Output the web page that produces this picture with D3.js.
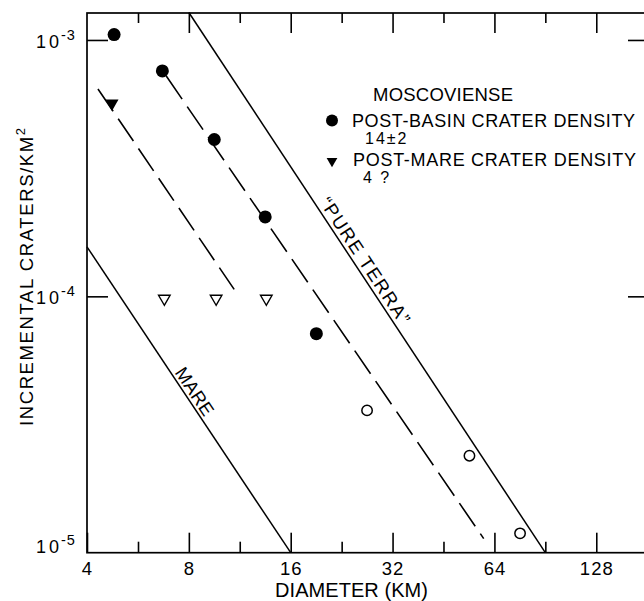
<!DOCTYPE html>
<html>
<head>
<meta charset="utf-8">
<script src="https://cdn.jsdelivr.net/npm/d3@7"></script>
<style>
  body { margin: 0; background: #fff; }
  svg text { font-family: "Liberation Sans", Arial, sans-serif; fill: #000; }
</style>
</head>
<body>
<div id="chart"></div>
<script>
// values (diameter in km, incremental craters per km^2)
const postBasinD = [4.81, 6.68, 9.51, 13.45, 19.05];
const postBasinN = [1.05e-3, 7.57e-4, 4.09e-4, 2.04e-4, 7.15e-5];
const openCircleD = [26.9, 54.0, 76.2];
const openCircleN = [3.59e-5, 2.39e-5, 1.19e-5];
const postMareD = [4.74];
const postMareN = [5.66e-4];
const openTriangleD = [6.77, 9.63, 13.55];
const openTriangleN = [9.8e-5, 9.8e-5, 9.8e-5];

// reference lines, end points as [diameter, density]
const pureTerraLine = [[8.0, 1.28e-3], [90.5, 1.0e-5]];
const mareLine = [[4.0, 1.56e-4], [16.0, 1.0e-5]];
const postBasinFit = [[6.86, 7.23e-4], [59.5, 1.135e-5]];
const postMareFit = [[4.31, 6.44e-4], [10.89, 1.064e-4]];

const xMajorTicks = [4, 8, 16, 32, 64, 128];
const xMinorTicks = [5.66, 11.31, 22.63, 45.25, 90.5, 181];
const yTicks = [1e-3, 1e-4, 1e-5];
const yTickExp = ["-3", "-4", "-5"];

const legendTitle = "MOSCOVIENSE";
const legendLabels = ["POST-BASIN CRATER DENSITY", "POST-MARE CRATER DENSITY"];
const legendValues = ["14\u00B12", "4 ?"];

const margin = {top: 13, right: -4, bottom: 48.3, left: 87};
const size = {width: 644, height: 601};
const width = size.width - margin.left - margin.right;
const height = size.height - margin.top - margin.bottom;

const svg = d3.select("#chart").append("svg")
    .attr("width", size.width)
    .attr("height", size.height);
svg.append("rect").attr("width", size.width).attr("height", size.height).attr("fill", "#fff");

const g = svg.append("g")
    .attr("transform", "translate(" + margin.left + "," + margin.top + ")");

const xScale = d3.scaleLog().domain([4, 182]).range([0, width]);
const yScale = d3.scaleLog().domain([1e-5, 1.274e-3]).range([height, 0]);

// frame
g.append("rect")
    .attr("width", width).attr("height", height)
    .attr("fill", "none").attr("stroke", "#000").attr("stroke-width", 1.7);

// bottom axis: inward ticks, labels below
const xAxisG = g.append("g").attr("transform", "translate(0," + height + ")")
    .call(d3.axisBottom(xScale).tickValues(xMajorTicks).tickFormat(d3.format("d"))
        .tickSizeInner(-20).tickSizeOuter(0).tickPadding(9.5));
g.append("g").attr("transform", "translate(0," + height + ")")
    .call(d3.axisBottom(xScale).tickValues(xMinorTicks).tickFormat("")
        .tickSizeInner(-11).tickSizeOuter(0));
// top axis: ticks hanging down
g.append("g")
    .call(d3.axisTop(xScale).tickValues(xMajorTicks.slice(1)).tickFormat("")
        .tickSizeInner(-20).tickSizeOuter(0));
g.append("g")
    .call(d3.axisTop(xScale).tickValues(xMinorTicks).tickFormat("")
        .tickSizeInner(-10).tickSizeOuter(0));
// left / right axes
g.append("g")
    .call(d3.axisLeft(yScale).tickValues(yTicks.slice(0, 2)).tickFormat("")
        .tickSizeInner(-21).tickSizeOuter(0));
g.append("g").attr("transform", "translate(" + width + ",0)")
    .call(d3.axisRight(yScale).tickValues(yTicks.slice(0, 2)).tickFormat("")
        .tickSizeInner(-20).tickSizeOuter(0));

g.selectAll(".domain").remove();
g.selectAll(".tick line").attr("stroke", "#000").attr("stroke-width", 1.6);
xAxisG.selectAll(".tick text")
    .attr("font-size", 18.5).attr("letter-spacing", 1)
    .attr("font-family", "Liberation Sans, Arial, sans-serif");

// y tick labels with superscript exponent
const yLab = g.append("g").selectAll("text")
    .data(yTicks)
    .join("text")
    .attr("x", -51)
    .attr("y", (d, i) => yScale(d) + (i === yTicks.length - 1 ? 0 : 8))
    .attr("font-size", 18);
yLab.append("tspan").attr("letter-spacing", 3).text("10");
yLab.append("tspan").attr("dy", -8).attr("dx", -1).attr("font-size", 14.5)
    .attr("letter-spacing", 1).text((d, i) => yTickExp[i]);

// axis titles
svg.append("text")
    .attr("x", 351.5).attr("y", 597)
    .attr("text-anchor", "middle")
    .attr("font-size", 20)
    .attr("textLength", 153).attr("lengthAdjust", "spacing")
    .text("DIAMETER (KM)");

const yTitle = svg.append("text")
    .attr("transform", "translate(33,277) rotate(-90)")
    .attr("text-anchor", "middle")
    .attr("font-size", 18.5);
yTitle.append("tspan").text("INCREMENTAL CRATERS/KM").attr("letter-spacing", 1.6);
yTitle.append("tspan").attr("dy", -8).attr("font-size", 13).text("2");

// reference and fitted lines
const line = d3.line().x(d => xScale(d[0])).y(d => yScale(d[1]));
g.append("path").datum(pureTerraLine).attr("d", line)
    .attr("fill", "none").attr("stroke", "#000").attr("stroke-width", 1.5);
g.append("path").datum(mareLine).attr("d", line)
    .attr("fill", "none").attr("stroke", "#000").attr("stroke-width", 1.5);
g.append("path").datum(postBasinFit).attr("d", line)
    .attr("fill", "none").attr("stroke", "#000").attr("stroke-width", 1.6)
    .attr("stroke-dasharray", "28,9");
g.append("path").datum(postMareFit).attr("d", line)
    .attr("fill", "none").attr("stroke", "#000").attr("stroke-width", 1.6)
    .attr("stroke-dasharray", "27,9");

// labels along the lines
function lineLabel(pts, t, label, len, dy) {
    const x0 = xScale(pts[0][0]), y0 = yScale(pts[0][1]);
    const x1 = xScale(pts[1][0]), y1 = yScale(pts[1][1]);
    const angle = Math.atan2(y1 - y0, x1 - x0) * 180 / Math.PI;
    const px = x0 + (x1 - x0) * t, py = y0 + (y1 - y0) * t;
    g.append("text")
        .attr("transform", "translate(" + px + "," + py + ") rotate(" + angle + ")")
        .attr("dy", dy)
        .attr("text-anchor", "middle")
        .attr("font-size", 18.5)
        .attr("textLength", len).attr("lengthAdjust", "spacing")
        .text(label);
}
lineLabel(pureTerraLine, 0.47, "\u201CPURE TERRA\u201D", 148, -4);
lineLabel(mareLine, 0.49, "MARE", 54, -3);

// points
const basinPts = postBasinD.map((d, i) => [d, postBasinN[i]]);
const openPts = openCircleD.map((d, i) => [d, openCircleN[i]]);
const marePts = postMareD.map((d, i) => [d, postMareN[i]]);
const openTriPts = openTriangleD.map((d, i) => [d, openTriangleN[i]]);

g.selectAll(".basinDot").data(basinPts).join("circle")
    .attr("class", "basinDot")
    .attr("cx", d => xScale(d[0])).attr("cy", d => yScale(d[1]))
    .attr("r", 6.5).attr("fill", "#000");
g.selectAll(".openDot").data(openPts).join("circle")
    .attr("class", "openDot")
    .attr("cx", d => xScale(d[0])).attr("cy", d => yScale(d[1]))
    .attr("r", 5.2).attr("fill", "#fff").attr("stroke", "#000").attr("stroke-width", 1.5);

const triDown = d3.symbol().type(d3.symbolTriangle);
g.selectAll(".mareTri").data(marePts).join("path")
    .attr("class", "mareTri")
    .attr("d", triDown.size(75)())
    .attr("transform", d => "translate(" + xScale(d[0]) + "," + yScale(d[1]) + ") rotate(180)")
    .attr("fill", "#000");
g.selectAll(".openTri").data(openTriPts).join("path")
    .attr("class", "openTri")
    .attr("d", d3.symbol().type(d3.symbolTriangle).size(58)())
    .attr("transform", d => "translate(" + xScale(d[0]) + "," + yScale(d[1]) + ") rotate(180)")
    .attr("fill", "#fff").attr("stroke", "#000").attr("stroke-width", 1.4);

// legend
const legend = svg.append("g");
legend.append("text").attr("x", 373).attr("y", 101).attr("font-size", 18.5)
    .attr("textLength", 140).attr("lengthAdjust", "spacing").text(legendTitle);
legend.append("circle").attr("cx", 332).attr("cy", 120.5).attr("r", 6).attr("fill", "#000");
legend.append("path").attr("d", d3.symbol().type(d3.symbolTriangle).size(50)())
    .attr("transform", "translate(332,161) rotate(180)").attr("fill", "#000");
legend.selectAll(".legLabel").data(legendLabels).join("text")
    .attr("class", "legLabel")
    .attr("x", (d, i) => i === 0 ? 352 : 353)
    .attr("y", (d, i) => i === 0 ? 126.5 : 165.5)
    .attr("font-size", 18)
    .attr("textLength", 283)
    .attr("lengthAdjust", "spacing")
    .text(d => d);
legend.selectAll(".legValue").data(legendValues).join("text")
    .attr("class", "legValue")
    .attr("x", (d, i) => i === 0 ? 365 : 363)
    .attr("y", (d, i) => i === 0 ? 144 : 183)
    .attr("font-size", 16)
    .attr("letter-spacing", 2)
    .text(d => d);
</script>
</body>
</html>
